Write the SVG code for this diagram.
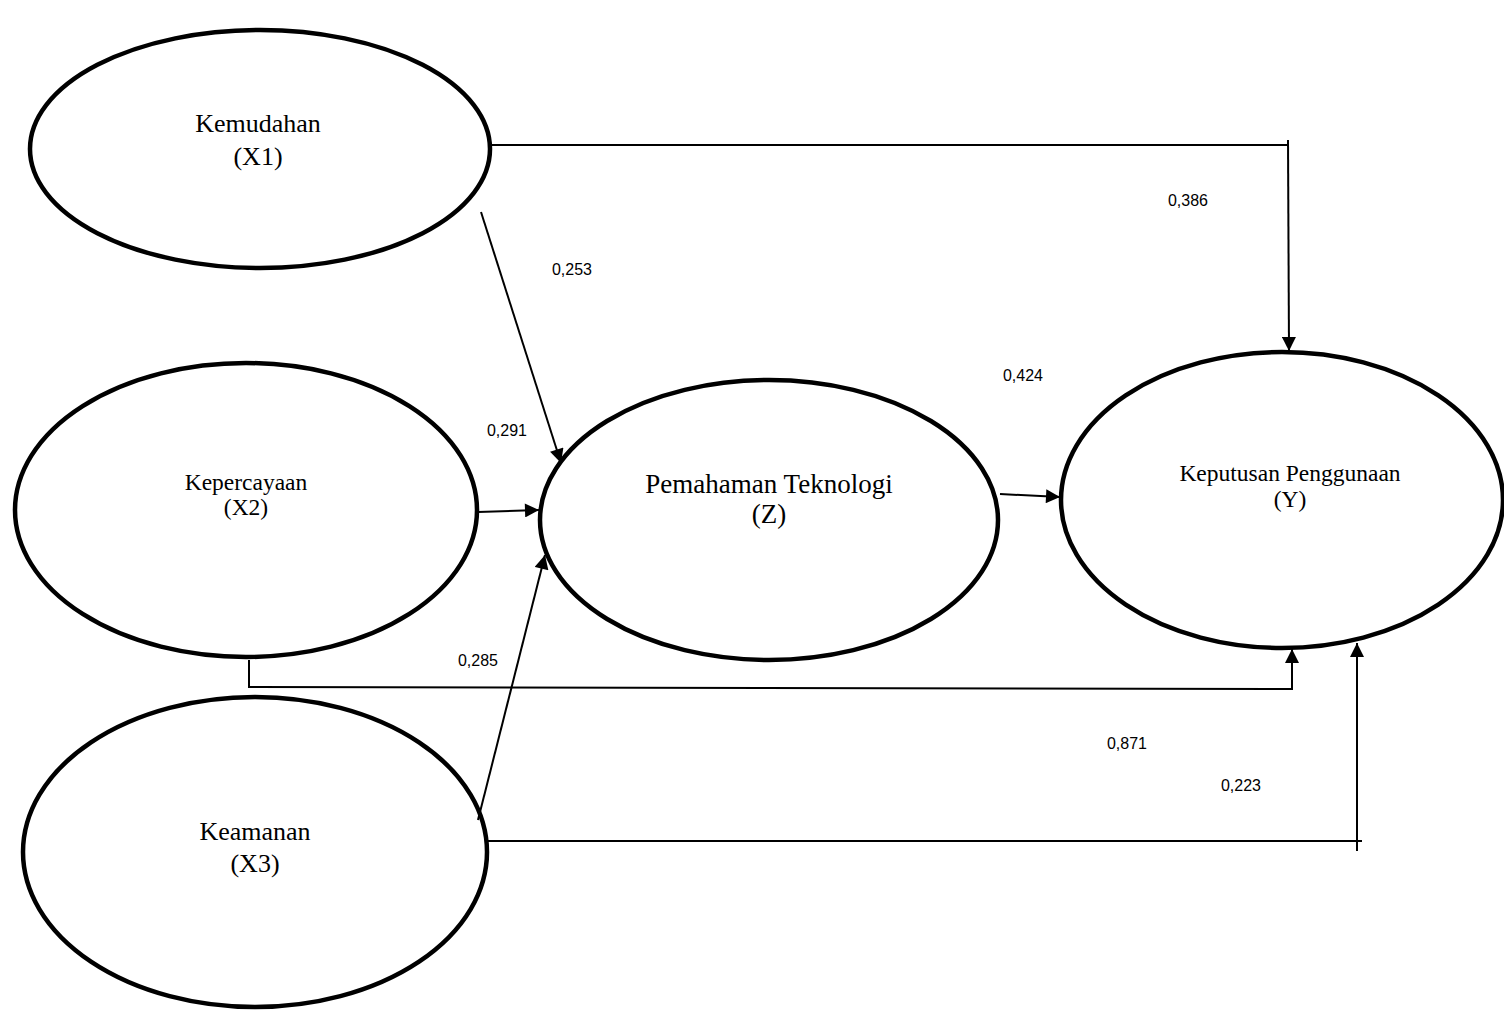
<svg xmlns="http://www.w3.org/2000/svg" width="1504" height="1010" viewBox="0 0 1504 1010">
<defs>
<style>
.node ellipse{fill:#fff;stroke:#000;stroke-width:4.5}
.lbl{font-family:"Liberation Serif",serif;fill:#000;text-anchor:middle}
.coef{font-family:"Liberation Sans",Arial,sans-serif;font-size:16px;fill:#000;text-anchor:middle}
.conn line,.conn polyline{stroke:#000;stroke-width:2;fill:none}
</style>
<marker id="ahb" viewBox="0 0 10 10" refX="10" refY="5" markerWidth="16" markerHeight="14" markerUnits="userSpaceOnUse" orient="auto">
<path d="M0,0 L10,5 L0,10 z" fill="#000"/>
</marker>
</defs>
<rect width="1504" height="1010" fill="#fff"/>
<g id="x1" class="node"><ellipse cx="260" cy="149" rx="230" ry="119"/><text class="lbl" x="258" y="132" font-size="26">Kemudahan</text><text class="lbl" x="258" y="165" font-size="26">(X1)</text></g>
<g id="x2" class="node"><ellipse cx="246" cy="510" rx="231" ry="147"/><text class="lbl" x="246" y="490" font-size="23.5">Kepercayaan</text><text class="lbl" x="246" y="515" font-size="23.5">(X2)</text></g>
<g id="x3" class="node"><ellipse cx="255" cy="852" rx="232" ry="155"/><text class="lbl" x="255" y="840" font-size="26">Keamanan</text><text class="lbl" x="255" y="872" font-size="26">(X3)</text></g>
<g id="z" class="node"><ellipse cx="769" cy="520" rx="229" ry="140"/><text class="lbl" x="769" y="493" font-size="27">Pemahaman Teknologi</text><text class="lbl" x="769" y="523" font-size="27">(Z)</text></g>
<g id="y" class="node"><ellipse cx="1282" cy="500" rx="221" ry="148"/><text class="lbl" x="1290" y="481" font-size="23.5">Keputusan Penggunaan</text><text class="lbl" x="1290" y="507" font-size="23.5">(Y)</text></g>
<g id="connectors" class="conn">
<polyline points="490,145 1289,145"/><line x1="1288" y1="140" x2="1289" y2="351" marker-end="url(#ahb)"/>
<line x1="481" y1="212" x2="561" y2="463" marker-end="url(#ahb)"/>
<line x1="478" y1="512" x2="539" y2="510" marker-end="url(#ahb)"/>
<line x1="478" y1="820" x2="545" y2="555" marker-end="url(#ahb)"/>
<line x1="1000" y1="494" x2="1060" y2="497" marker-end="url(#ahb)"/>
<polyline points="249,660 249,687 1292,689 1292,649" marker-end="url(#ahb)"/>
<line x1="487" y1="841" x2="1362" y2="841"/><line x1="1357" y1="851" x2="1357" y2="643" marker-end="url(#ahb)"/>
</g>
<g id="labels">
<text class="coef" x="1188" y="206">0,386</text>
<text class="coef" x="572" y="275">0,253</text>
<text class="coef" x="1023" y="381">0,424</text>
<text class="coef" x="507" y="436">0,291</text>
<text class="coef" x="478" y="666">0,285</text>
<text class="coef" x="1127" y="749">0,871</text>
<text class="coef" x="1241" y="791">0,223</text>
</g>
</svg>
